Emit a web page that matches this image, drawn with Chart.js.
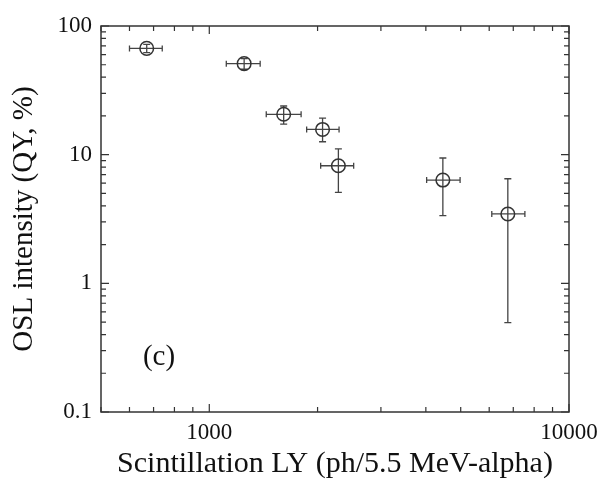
<!DOCTYPE html>
<html>
<head>
<meta charset="utf-8">
<script src="https://cdn.jsdelivr.net/npm/chart.js@4"></script>
<style>
  body { margin: 0; background: #fff; }
</style>
</head>
<body>
<canvas id="oslChart" width="602" height="486"></canvas>
<script>
// data
const lyValues = [670, 1250, 1610, 2065, 2285, 4460, 6760];
const lyLow = [600, 1115, 1440, 1865, 2040, 4020, 6100];
const lyHigh = [740, 1385, 1800, 2295, 2520, 4980, 7540];
const oslValues = [67, 51, 20.6, 15.7, 8.2, 6.35, 3.46];
const oslLow = [62, 46.1, 17.3, 12.6, 5.1, 3.36, 0.495];
const oslHigh = [72, 55.7, 23.9, 19.2, 11.1, 9.42, 6.5];

const xTickLabels = [1000, 10000];
const yTickLabels = [0.1, 1, 10, 100];
const panelLabel = "(c)";

const ink = "#333";
const serif = "'Liberation Serif', 'DejaVu Serif', serif";

let points = [];
for (let i = 0; i < lyValues.length; i++) {
  points.push({ x: lyValues[i], y: oslValues[i] });
}

// minor + major log ticks between min and max
function logTicks(min, max) {
  let out = [];
  for (let e = Math.floor(Math.log10(min)); e <= Math.ceil(Math.log10(max)); e++) {
    for (let m = 1; m < 10; m++) {
      let v = +(m * Math.pow(10, e)).toPrecision(6);
      if (v >= min * 0.999 && v <= max * 1.001) out.push({ value: v });
    }
  }
  return out;
}

function isDecade(v) {
  let l = Math.log10(v);
  return Math.abs(l - Math.round(l)) < 1e-6;
}

// no extra room for overhanging labels, layout padding decides
function noPad(s) {
  s.paddingLeft = 0;
  s.paddingRight = 0;
  s.paddingTop = 0;
  s.paddingBottom = 0;
}

// error bars under the circles
const errorBars = {
  id: "errorBars",
  beforeDatasetsDraw(chart) {
    const { ctx, scales } = chart;
    const xs = scales.x, ys = scales.y;
    ctx.save();
    ctx.strokeStyle = "#444";
    ctx.lineWidth = 1.3;
    for (let i = 0; i < lyValues.length; i++) {
      let px = xs.getPixelForValue(lyValues[i]);
      let py = ys.getPixelForValue(oslValues[i]);
      let x1 = xs.getPixelForValue(lyLow[i]);
      let x2 = xs.getPixelForValue(lyHigh[i]);
      let y1 = ys.getPixelForValue(oslLow[i]);
      let y2 = ys.getPixelForValue(oslHigh[i]);
      ctx.beginPath();
      ctx.moveTo(x1, py); ctx.lineTo(x2, py);
      ctx.moveTo(x1, py - 3); ctx.lineTo(x1, py + 3);
      ctx.moveTo(x2, py - 3); ctx.lineTo(x2, py + 3);
      ctx.moveTo(px, y1); ctx.lineTo(px, y2);
      ctx.moveTo(px - 3.5, y1); ctx.lineTo(px + 3.5, y1);
      ctx.moveTo(px - 3.5, y2); ctx.lineTo(px + 3.5, y2);
      ctx.stroke();
    }
    ctx.restore();
  }
};

// box with inward ticks on all four sides, and panel label
const frame = {
  id: "frame",
  afterDraw(chart) {
    const { ctx, chartArea: a, scales } = chart;
    ctx.save();
    ctx.strokeStyle = ink;
    ctx.lineWidth = 1.5;
    ctx.strokeRect(a.left, a.top, a.right - a.left, a.bottom - a.top);
    ctx.lineWidth = 1.2;
    ctx.beginPath();
    scales.x.ticks.forEach(t => {
      let p = scales.x.getPixelForValue(t.value);
      let len = isDecade(t.value) ? 8 : 5;
      ctx.moveTo(p, a.bottom); ctx.lineTo(p, a.bottom - len);
      ctx.moveTo(p, a.top); ctx.lineTo(p, a.top + len);
    });
    scales.y.ticks.forEach(t => {
      let p = scales.y.getPixelForValue(t.value);
      let len = isDecade(t.value) ? 8 : 5;
      ctx.moveTo(a.left, p); ctx.lineTo(a.left + len, p);
      ctx.moveTo(a.right, p); ctx.lineTo(a.right - len, p);
    });
    ctx.stroke();
    ctx.fillStyle = "#111";
    ctx.font = "29px " + serif;
    ctx.textAlign = "center";
    ctx.textBaseline = "middle";
    ctx.fillText(panelLabel, scales.x.getPixelForValue(725), scales.y.getPixelForValue(0.265));
    ctx.restore();
  }
};

new Chart(document.getElementById("oslChart"), {
  type: "scatter",
  data: {
    datasets: [
      {
        data: points,
        pointStyle: "circle",
        pointRadius: 6.8,
        pointHoverRadius: 6.8,
        pointBorderWidth: 1.5,
        borderColor: ink,
        backgroundColor: "rgba(0,0,0,0)",
        showLine: false,
      },
    ],
  },
  options: {
    responsive: false,
    animation: false,
    layout: { padding: { left: 0, top: 26, right: 33, bottom: 0 } },
    plugins: { legend: { display: false }, tooltip: { enabled: false } },
    scales: {
      x: {
        type: "logarithmic",
        min: 500,
        max: 10000,
        grid: { display: false, drawTicks: false },
        border: { display: false },
        afterBuildTicks: s => { s.ticks = logTicks(500, 10000); },
        afterFit: s => { s.height = 74; noPad(s); },
        ticks: {
          autoSkip: false,
          maxRotation: 0,
          padding: 7,
          color: "#111",
          font: { family: serif, size: 23 },
          callback: v => (xTickLabels.includes(v) ? String(v) : ""),
        },
        title: {
          display: true,
          text: "Scintillation LY (ph/5.5 MeV-alpha)",
          color: "#111",
          font: { family: serif, size: 30 },
          padding: { top: 0, bottom: 4 },
        },
      },
      y: {
        type: "logarithmic",
        min: 0.1,
        max: 100,
        grid: { display: false, drawTicks: false },
        border: { display: false },
        afterBuildTicks: s => { s.ticks = logTicks(0.1, 100); },
        afterFit: s => { s.width = 101; noPad(s); },
        ticks: {
          autoSkip: false,
          padding: 9,
          color: "#111",
          font: { family: serif, size: 23 },
          callback: v => (yTickLabels.includes(v) ? String(v) : ""),
        },
        title: {
          display: true,
          text: "OSL intensity (QY, %)",
          color: "#111",
          font: { family: serif, size: 29 },
          padding: { top: 7, bottom: 0 },
        },
      },
    },
  },
  plugins: [errorBars, frame],
});
</script>
</body>
</html>
